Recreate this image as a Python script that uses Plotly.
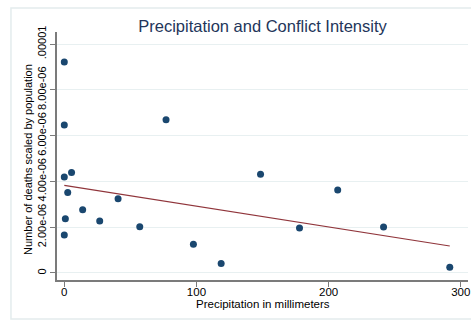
import plotly.graph_objects as go

# Data
precip_mm = [0, 0, 0, 5.5, 2.6, 0.8, 0, 13.9, 26.8, 40.7, 57.1, 97.7, 118.7,
             77.0, 148.5, 178.0, 206.9, 241.6, 291.7]
deaths_scaled = [9.21e-6, 6.46e-6, 4.19e-6, 4.39e-6, 3.51e-6, 2.37e-6, 1.66e-6,
                 2.76e-6, 2.27e-6, 3.24e-6, 2.02e-6, 1.25e-6, 0.42e-6,
                 6.69e-6, 4.31e-6, 1.97e-6, 3.62e-6, 2.01e-6, 0.25e-6]
fit_x = [0, 291.7]
fit_y = [3.83e-6, 1.18e-6]

x_tickvals = [0, 100, 200, 300]
x_ticktext = ["0", "100", "200", "300"]
y_tickvals = [0, 2e-6, 4e-6, 6e-6, 8e-6, 1e-5]
y_ticktext = ["0", "2.00e-06", "4.00e-06", "6.00e-06", "8.00e-06", ".00001"]

FONT = "Liberation Sans, Arial, sans-serif"
AXIS_GRAY = "#7b7b7b"
GRID = "#e8f0f1"

fig = go.Figure()
fig.add_trace(go.Scatter(
    x=precip_mm, y=deaths_scaled, mode="markers",
    marker=dict(color="#1a476f", size=7, line=dict(width=0)),
    showlegend=False, hoverinfo="skip"))
fig.add_trace(go.Scatter(
    x=fit_x, y=fit_y, mode="lines",
    line=dict(color="#90353b", width=1.2),
    showlegend=False, hoverinfo="skip"))

fig.update_layout(
    width=471, height=320,
    margin=dict(l=57, r=3, t=32, b=40, autoexpand=False),
    paper_bgcolor="white", plot_bgcolor="white",
    font=dict(family=FONT, color="black", size=12),
    title=dict(text="Precipitation and Conflict Intensity",
               font=dict(family=FONT, size=16.5, color="#23355a"),
               x=0.5573, xanchor="center", y=0.9, yanchor="bottom", yref="container"),
    xaxis=dict(range=[-5.52, 305.5], tickvals=x_tickvals, ticktext=x_ticktext,
               automargin=False, ticklabeloverflow="allow", ticklabelstandoff=-5,
               showline=True, linecolor=AXIS_GRAY, linewidth=2,
               ticks="outside", ticklen=5, tickcolor=AXIS_GRAY, tickwidth=1,
               showgrid=False, zeroline=False,
               tickfont=dict(size=11.5, color="black")),
    yaxis=dict(range=[-0.306e-6, 10.524e-6], tickvals=y_tickvals, ticktext=y_ticktext,
               tickangle=-90, automargin=False,
               showline=True, linecolor=AXIS_GRAY, linewidth=2,
               ticks="outside", ticklen=5, tickcolor=AXIS_GRAY, tickwidth=1,
               showgrid=True, gridcolor=GRID, gridwidth=1, zeroline=False,
               tickfont=dict(size=11, color="black")),
    annotations=[
        dict(text="Precipitation in millimeters", xref="paper", yref="paper",
             x=0.5, y=-0.097, xanchor="center", yanchor="middle", showarrow=False,
             font=dict(size=11.5, color="black")),
        dict(text="Number of deaths scaled by population", xref="paper", yref="paper",
             x=-0.0706, y=0.488, xanchor="center", yanchor="middle", showarrow=False,
             textangle=-90, font=dict(size=11, color="black")),
    ],
    shapes=[dict(type="rect", xref="paper", yref="paper",
                 x0=-0.112, x1=1.02, y0=-0.157, y1=1.097,
                 line=dict(color="#e3eced", width=1.5), fillcolor="rgba(0,0,0,0)",
                 layer="below")],
)

fig.write_html("out.html", config={"displayModeBar": False},
               post_script="document.body.style.margin='0';document.body.style.padding='0';")
